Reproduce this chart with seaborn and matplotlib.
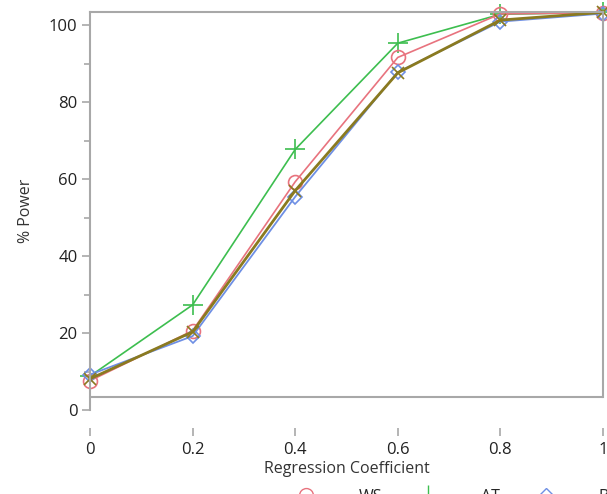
import matplotlib
matplotlib.use("Agg")
import matplotlib.pyplot as plt
import seaborn as sns
import pandas as pd
import numpy as np
from matplotlib.ticker import MultipleLocator, FixedLocator
from matplotlib.lines import Line2D

x_vals = [0, 0.2, 0.4, 0.6, 0.8, 1.0]
tick_labels = ["0", "0.2", "0.4", "0.6", "0.8", "1"]
ws = [7.6, 20.6, 59.3, 91.6, 102.9, 103.2]
at = [8.8, 27.3, 67.7, 95.3, 102.8, 103.3]
s3 = [9.2, 19.2, 55.4, 87.8, 100.9, 103.0]
s4 = [8.1, 20.3, 57.0, 87.6, 101.3, 103.3]
series_names = ["WS", "AT", "BS", "MA"]

sns.set_theme(style="white")
plt.rcParams['font.family'] = ['Open Sans', 'DejaVu Sans']

fig = plt.figure(figsize=(6.07, 4.94), dpi=100)
ax = fig.add_axes([90/607, 1-410/494, (603-90)/607, (410-12)/494])

colors = {"WS": "#E8737E", "AT": "#3DBE4F", "BS": "#6E8FE4", "MA": "#8A7A20"}
markers = {"WS": "o", "AT": "+", "BS": "D", "MA": "x"}
msize = {"WS": 10, "AT": 14, "BS": 7, "MA": 8}
data = {"WS": ws, "AT": at, "BS": s3, "MA": s4}
lw = {"WS": 1.2, "AT": 1.2, "BS": 1.3, "MA": 2.0}

for name in ["AT", "WS", "BS", "MA"]:
    df = pd.DataFrame({"x": x_vals, "y": data[name]})
    sns.lineplot(data=df, x="x", y="y", ax=ax, color=colors[name], linewidth=lw[name],
                 marker=markers[name], markersize=msize[name], markerfacecolor="none",
                 markeredgecolor=colors[name], markeredgewidth=1.2, clip_on=False)

handles = []
for name in series_names:
    handles.append(Line2D([], [], color=colors[name], marker=markers[name], markersize=msize[name],
                          markerfacecolor="none", markeredgecolor=colors[name], linewidth=lw[name]))

ymax = 103.4
ybot = 3.4
ax.set_xlim(0, 1)
ax.set_ylim(0, ymax)

gray = "#A8A8A8"
for sp in ["top", "right", "left"]:
    ax.spines[sp].set_color(gray)
    ax.spines[sp].set_linewidth(1.5)
ax.spines["right"].set_bounds(ybot, ymax)
ax.spines["bottom"].set_position(("outward", 13))
ax.spines["bottom"].set_visible(False)
ax.plot([0, 1], [ybot, ybot], color=gray, linewidth=1.5, clip_on=False, zorder=1)

ax.yaxis.set_major_locator(MultipleLocator(20))
ax.yaxis.set_minor_locator(MultipleLocator(10))
ax.xaxis.set_major_locator(FixedLocator(x_vals))
ax.set_xticklabels(tick_labels)
ax.tick_params(axis="y", which="major", left=True, length=6, width=1.2, color=gray,
               labelsize=12, labelcolor="#222222", pad=3)
ax.tick_params(axis="y", which="minor", left=True, length=4, width=1.2, color=gray)
ax.tick_params(axis="x", which="major", bottom=True, length=6, width=1.2, color=gray,
               labelsize=12, labelcolor="#222222", pad=4)

ax.set_xlabel("Regression Coefficient", fontsize=11.5, color="#333333", labelpad=2)
ax.set_ylabel("% Power", fontsize=11.5, color="#333333", labelpad=11)

fig.legend(handles=handles, labels=series_names, loc="upper left",
           bbox_to_anchor=(285/607, 1-489/494), ncol=4, frameon=False, fontsize=11.5,
           handlelength=2.6, columnspacing=1.6, handletextpad=2.0, borderaxespad=0, borderpad=0)

fig.savefig("out.png", dpi=100)
